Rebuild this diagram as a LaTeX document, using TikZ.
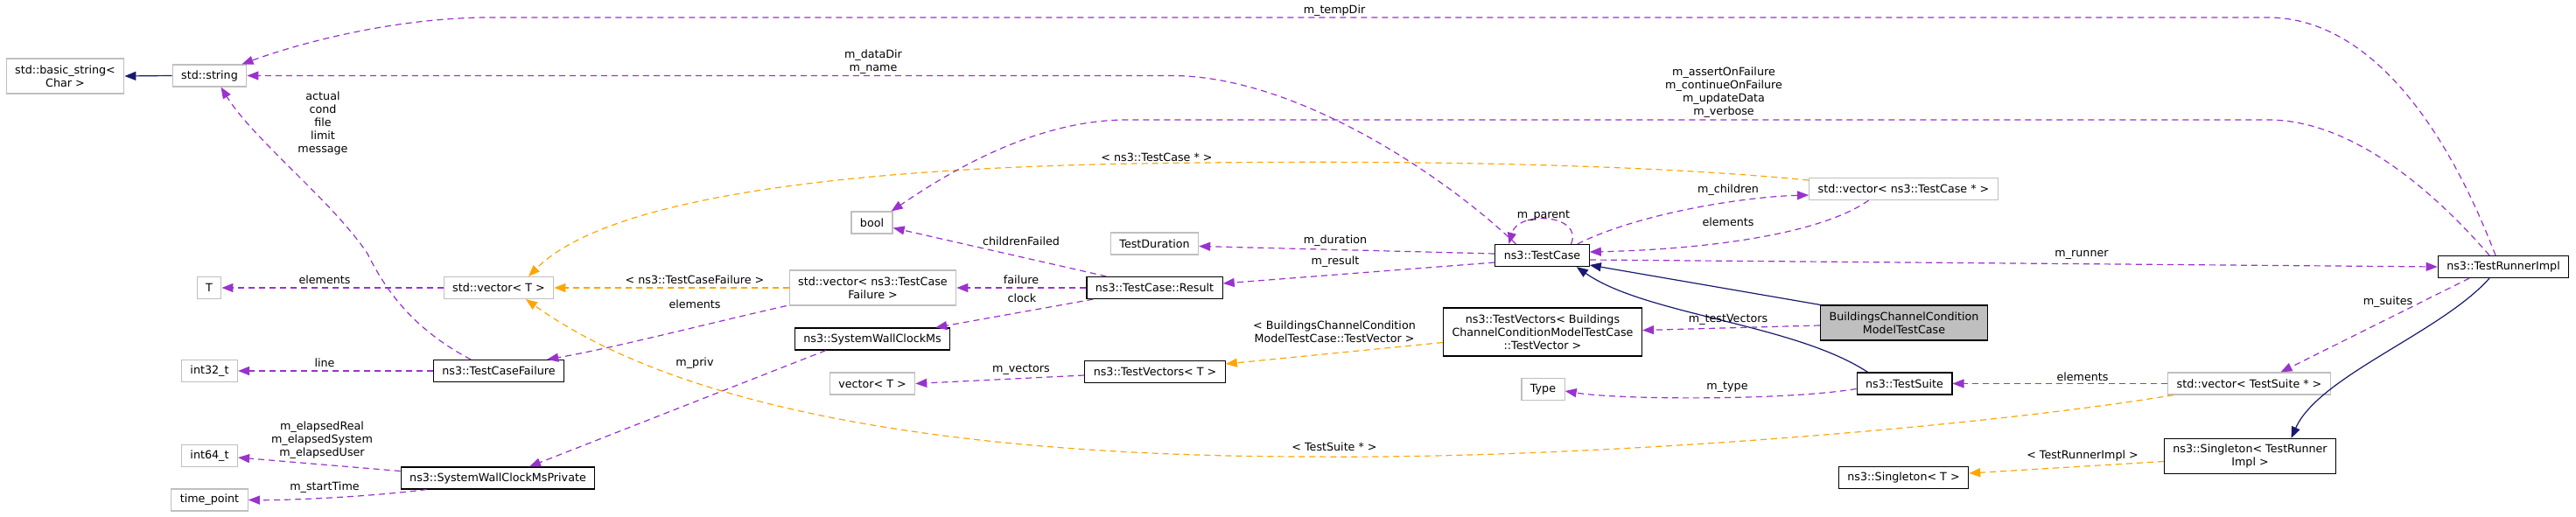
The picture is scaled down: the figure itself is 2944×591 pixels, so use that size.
\documentclass[tikz,border=0pt]{standalone}
\usepackage{fontspec}
\setmainfont{DejaVu Sans}
\usetikzlibrary{arrows.meta}
\definecolor{usecol}{HTML}{9A32CD}
\definecolor{tplcol}{HTML}{FFA500}
\definecolor{inhcol}{HTML}{191970}
\definecolor{boxgray}{HTML}{BFBFBF}
\newcommand{\doxfont}{\fontsize{12.7pt}{15pt}\selectfont}
\tikzset{
  cls/.style={draw=black, fill=white, line width=1.2pt, inner xsep=10pt, inner ysep=0pt, minimum height=25pt, align=center, font=\doxfont},
  ext/.style={cls, draw=boxgray},
  two/.style={minimum height=40pt},
  three/.style={minimum height=55pt},
  lbl/.style={align=center, font=\doxfont, inner sep=0pt},
  link/.style={line width=1.2pt, -{Triangle[length=13pt,width=10pt]}},
  usage/.style={link, draw=usecol, dash pattern=on 7pt off 5pt},
  tmpl/.style={link, draw=tplcol, dash pattern=on 7pt off 5pt},
  inherit/.style={link, draw=inhcol}
}
\begin{document}
\begin{tikzpicture}[x=1pt,y=-1pt]
\fill[white] (0,0) rectangle (2944,591);
\useasboundingbox (0,0) rectangle (2944,591);

\node[ext,two] (basic) at (74.5,87) {std::basic\_string<\\Char >};
\node[ext] (str) at (239.5,86.5) {std::string};
\node[ext] (T) at (239,329) {T};
\node[ext] (i32) at (239.5,424) {int32\_t};
\node[ext] (i64) at (239.5,521) {int64\_t};
\node[ext] (tp) at (239.5,571.5) {time\_point};
\node[ext] (vecT) at (570,329) {std::vector< T >};
\node[cls] (tcf) at (570,424) {ns3::TestCaseFailure};
\node[cls] (swcp) at (569,546.5) {ns3::SystemWallClockMsPrivate};
\node[ext] (bool) at (996.5,254.5) {bool};
\node[ext,two] (vtcf) at (997.5,329) {std::vector< ns3::TestCase\\Failure >};
\node[cls] (swc) at (997,387.5) {ns3::SystemWallClockMs};
\node[ext] (vec) at (997,438.5) {vector< T >};
\node[ext] (dur) at (1319.5,278.5) {TestDuration};
\node[cls] (res) at (1319.5,329) {ns3::TestCase::Result};
\node[cls] (tvT) at (1320,425) {ns3::TestVectors< T >};
\node[cls] (tc) at (1762.5,292) {ns3::TestCase};
\node[cls,three] (tvb) at (1763,379.5) {ns3::TestVectors< Buildings\\ChannelConditionModelTestCase\\::TestVector >};
\node[ext] (type) at (1763.5,445) {Type};
\node[ext] (vtc) at (2175.5,216) {std::vector< ns3::TestCase * >};
\node[cls,two,fill=boxgray] (bcm) at (2176,369) {BuildingsChannelCondition\\ModelTestCase};
\node[cls] (ts) at (2176.5,438.5) {ns3::TestSuite};
\node[cls] (sgT) at (2175.5,546) {ns3::Singleton< T >};
\node[cls] (tri) at (2861,305) {ns3::TestRunnerImpl};
\node[ext] (vts) at (2570.5,438.5) {std::vector< TestSuite * >};
\node[cls,two] (sgr) at (2571.5,521.5) {ns3::Singleton< TestRunner\\Impl >};

\draw[inherit] (str.west) -- (basic.east);
\draw[usage] ([xshift=-9pt]tri.north) .. controls (2790,130) and (2700,20) .. (2592,20) -- (560,20) .. controls (450,20) and (340,50) .. ([xshift=-6pt]str.north east);
\draw[usage] ([xshift=-30pt]tc.north) .. controls (1650,200) and (1480,86.5) .. (1339,86.5) -- (str.east);
\draw[usage] ([xshift=-32pt]tcf.north) .. controls (470,375) and (440,330) .. (420,290) .. controls (380,230) and (290,160) .. ([xshift=13pt]str.south);
\draw[usage] (vecT.west) -- (T.east);
\draw[usage] (tcf.west) -- (i32.east);
\draw[usage] ([yshift=8pt]swcp.west) -- ([yshift=-2pt]i64.east);
\draw[usage] ([xshift=30pt]swcp.south west) .. controls (420,568) and (330,572) .. (tp.east);
\draw[tmpl] (vtcf.west) -- (vecT.east);
\draw[usage] ([xshift=-3pt]vtcf.south west) .. controls (800,372) and (700,398) .. ([xshift=-20pt]tcf.north east);
\draw[tmpl] ([yshift=10pt]vtc.west) .. controls (1850,185) and (1550,183) .. (1300,187) .. controls (1000,192) and (700,220) .. ([xshift=34pt]vecT.north);
\draw[tmpl] ([xshift=7pt]vts.south west) .. controls (2250,490) and (1800,525) .. (1500,522) .. controls (1100,522) and (780,470) .. ([xshift=31pt]vecT.south);
\draw[usage] ([xshift=-16pt]tri.north) .. controls (2800,240) and (2700,137) .. (2592,137) -- (1288,137) .. controls (1180,137) and (1080,200) .. ([xshift=-2pt]bool.north east);
\draw[usage] ([xshift=23pt]res.north west) -- ([yshift=-6pt]bool.east);
\draw[usage] ([yshift=2pt]tc.west) -- ([yshift=-3pt]dur.east);
\draw[usage] ([yshift=-8pt]tc.west) -- ([yshift=5pt]res.east);
\draw[usage] (res.west) -- (vtcf.east);
\draw[usage] ([xshift=8pt]res.south west) -- ([xshift=-17pt]swc.north east);
\draw[usage] ([xshift=36pt]swc.south west) -- ([xshift=36pt]swcp.north);
\draw[usage] ([yshift=-4pt]tvT.west) -- (vec.east);
\draw[tmpl] ([yshift=-12pt]tvb.west) -- ([yshift=9pt]tvT.east);
\draw[usage] ([xshift=33pt]tc.north) .. controls (1810,245) and (1735,240) .. ([xshift=-38pt]tc.north);
\draw[usage] ([xshift=-14pt]tc.north east) .. controls (1870,245) and (1990,225) .. ([yshift=-7pt]vtc.west);
\draw[usage] ([xshift=-40pt]vtc.south) .. controls (2080,268) and (1950,285) .. ([yshift=4pt]tc.east);
\draw[usage] ([yshift=-5pt]tc.east) -- (tri.west);
\draw[inherit] (bcm.north west) -- ([yshift=-11pt]tc.east);
\draw[inherit] ([xshift=13pt]ts.north west) .. controls (2050,370) and (1880,360) .. ([xshift=-15pt]tc.south east);
\draw[usage] ([yshift=-3pt]bcm.west) -- ([yshift=2pt]tvb.east);
\draw[usage] ([yshift=-6pt]ts.west) .. controls (2040,458) and (1850,457) .. ([yshift=-2pt]type.east);
\draw[usage] (vts.west) -- (ts.east);
\draw[usage] ([xshift=-39pt]tri.south) -- ([xshift=36pt]vts.north);
\draw[inherit] ([xshift=-16pt]tri.south) .. controls (2790,380) and (2650,430) .. ([xshift=47pt]sgr.north);
\draw[tmpl] ([yshift=-6pt]sgr.west) -- ([yshift=5pt]sgT.east);

\node[lbl] (lTemp) at (1525,12) {m\_tempDir};
\node[lbl] (lData) at (998,71) {m\_dataDir\\m\_name};
\node[lbl] (lFail) at (369,141) {actual\\cond\\file\\limit\\message};
\node[lbl] (lFlags) at (1970,106) {m\_assertOnFailure\\m\_continueOnFailure\\m\_updateData\\m\_verbose};
\node[lbl] (lVtc) at (1322,180) {< ns3::TestCase * >};
\node[lbl] (lElT) at (371,320) {elements};
\node[lbl] (lLine) at (371,415) {line};
\node[lbl] (lElapsed) at (368,503) {m\_elapsedReal\\m\_elapsedSystem\\m\_elapsedUser};
\node[lbl] (lStart) at (371,557) {m\_startTime};
\node[lbl] (lVtcf) at (794,320) {< ns3::TestCaseFailure >};
\node[lbl] (lElTcf) at (794,348) {elements};
\node[lbl] (lPriv) at (794,415) {m\_priv};
\node[lbl] (lChild) at (1167,276) {childrenFailed};
\node[lbl] (lFailure) at (1167,320) {failure};
\node[lbl] (lClock) at (1168,341) {clock};
\node[lbl] (lVectors) at (1167,423) {m\_vectors};
\node[lbl] (lDur) at (1526,275) {m\_duration};
\node[lbl] (lRes) at (1526,299) {m\_result};
\node[lbl] (lParent) at (1764,247) {m\_parent};
\node[lbl] (lTvb) at (1525,379) {< BuildingsChannelCondition\\ModelTestCase::TestVector >};
\node[lbl] (lVts) at (1525,511) {< TestSuite * >};
\node[lbl] (lChildren) at (1975,217) {m\_children};
\node[lbl] (lElTc) at (1975,254) {elements};
\node[lbl] (lTestVec) at (1975,365) {m\_testVectors};
\node[lbl] (lType) at (1974,443) {m\_type};
\node[lbl] (lRunner) at (2379,291) {m\_runner};
\node[lbl] (lElTs) at (2380,431) {elements};
\node[lbl] (lSingle) at (2380,521) {< TestRunnerImpl >};
\node[lbl] (lSuites) at (2729,345) {m\_suites};
\end{tikzpicture}
\end{document}
